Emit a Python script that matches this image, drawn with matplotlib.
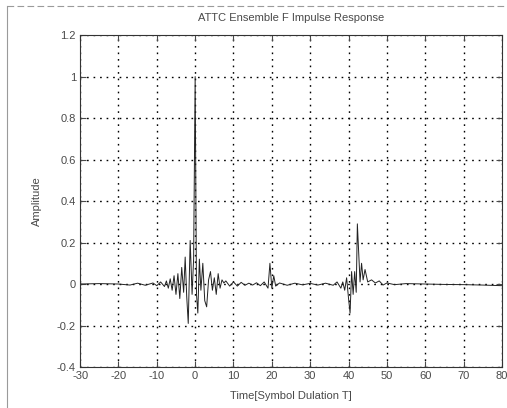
import matplotlib
matplotlib.use("Agg")
import matplotlib.pyplot as plt
from matplotlib.lines import Line2D

# Sampled impulse response (time in symbol durations, amplitude)
time_T = [-30, -25, -20, -17, -15, -13, -11, -10, -9, -8, -7.5, -7, -6.5, -6,
          -5.5, -5, -4.5, -4, -3.5, -3, -2.6, -2.2, -1.8, -1.3, -0.8, -0.4,
          0, 0.35, 0.7, 1.1, 1.5, 2, 2.5, 3, 3.5, 4, 4.5, 5, 5.5, 6, 6.5, 7,
          7.5, 8, 9, 10, 11, 12, 13, 14, 15, 16, 17, 18, 19, 19.5, 20, 20.5,
          21, 22, 24, 26, 28, 30, 32, 34, 36, 37, 38, 38.5, 39, 39.5, 40,
          40.4, 40.8, 41.2, 41.6, 42, 42.3, 42.6, 43, 43.4, 43.8, 44.3, 45,
          46, 47, 48, 49, 50, 52, 55, 60, 65, 70, 75, 80]
amplitude = [0, 0.002, 0, -0.005, 0.004, -0.006, 0.005, -0.008, 0.01, -0.012,
             0.015, -0.02, 0.025, -0.03, 0.04, -0.05, 0.05, -0.07, 0.08,
             -0.04, 0.13, -0.06, -0.19, 0.21, -0.05, 0.12,
             1.0, -0.05, -0.14, 0.12, -0.03, 0.1, -0.08, -0.11, 0.02, 0.06,
             -0.03, 0.03, -0.05, 0.05, -0.02, 0.02, 0.005, 0.015, -0.01, 0.01,
             -0.01, 0.008, -0.006, 0.004, -0.005, 0.006, -0.008, 0.01, -0.02,
             0.1, -0.02, 0.04, -0.01, 0.005, -0.006, 0.004, -0.004, 0.003,
             -0.005, 0.004, -0.006, 0.01, -0.02, 0.01, -0.03, 0.03, -0.07,
             -0.14, 0.06, -0.05, 0.06, -0.04, 0.29, 0.17, 0.01, 0.1, 0.02,
             0.07, 0.01, 0.02, 0.005, 0.015, -0.005, 0.005, -0.003, 0.002, 0,
             -0.002, -0.003, -0.005, -0.008]

x_ticks = [-30, -20, -10, 0, 10, 20, 30, 40, 50, 60, 70, 80]
y_ticks = [-0.4, -0.2, 0, 0.2, 0.4, 0.6, 0.8, 1, 1.2]

plt.rcParams["font.family"] = ["Liberation Sans", "DejaVu Sans"]
ink = "#4a4a4a"

fig = plt.figure(figsize=(5.07, 4.08), dpi=100)
ax = fig.add_axes([0.158, 0.1005, 0.832, 0.8135])

ax.plot(time_T, amplitude, color="#222222", linewidth=0.7)

ax.set_xlim(-30, 80)
ax.set_ylim(-0.4, 1.2)
ax.set_xticks(x_ticks)
ax.set_yticks(y_ticks)
ax.set_xticklabels([str(v) for v in x_ticks])
ax.set_yticklabels(["-0.4", "-0.2", "0", "0.2", "0.4", "0.6", "0.8", "1", "1.2"])
ax.grid(True, color="black", linestyle=(0, (1.2, 3.5)), linewidth=1.0)
ax.tick_params(direction="in", top=True, right=True, length=4,
               labelsize=8, colors=ink, pad=3)
for s in ax.spines.values():
    s.set_linewidth(0.8)
    s.set_color("#333333")

ax.set_title("ATTC Ensemble F Impulse Response", fontsize=8, color=ink, pad=10)
ax.set_xlabel("Time[Symbol Dulation T]", fontsize=8, color=ink, labelpad=7)
ax.set_ylabel("Amplitude", fontsize=8, color=ink, labelpad=11)

# Outer page frame lines
fig.add_artist(Line2D([0.014, 0.014], [0.0, 0.985], transform=fig.transFigure,
                      color="#9a9a9a", linewidth=0.8))
fig.add_artist(Line2D([0.014, 1.0], [0.985, 0.985], transform=fig.transFigure,
                      color="#9a9a9a", linewidth=0.8, linestyle=(0, (6, 3))))

fig.savefig("out.png", dpi=100, facecolor="white")
